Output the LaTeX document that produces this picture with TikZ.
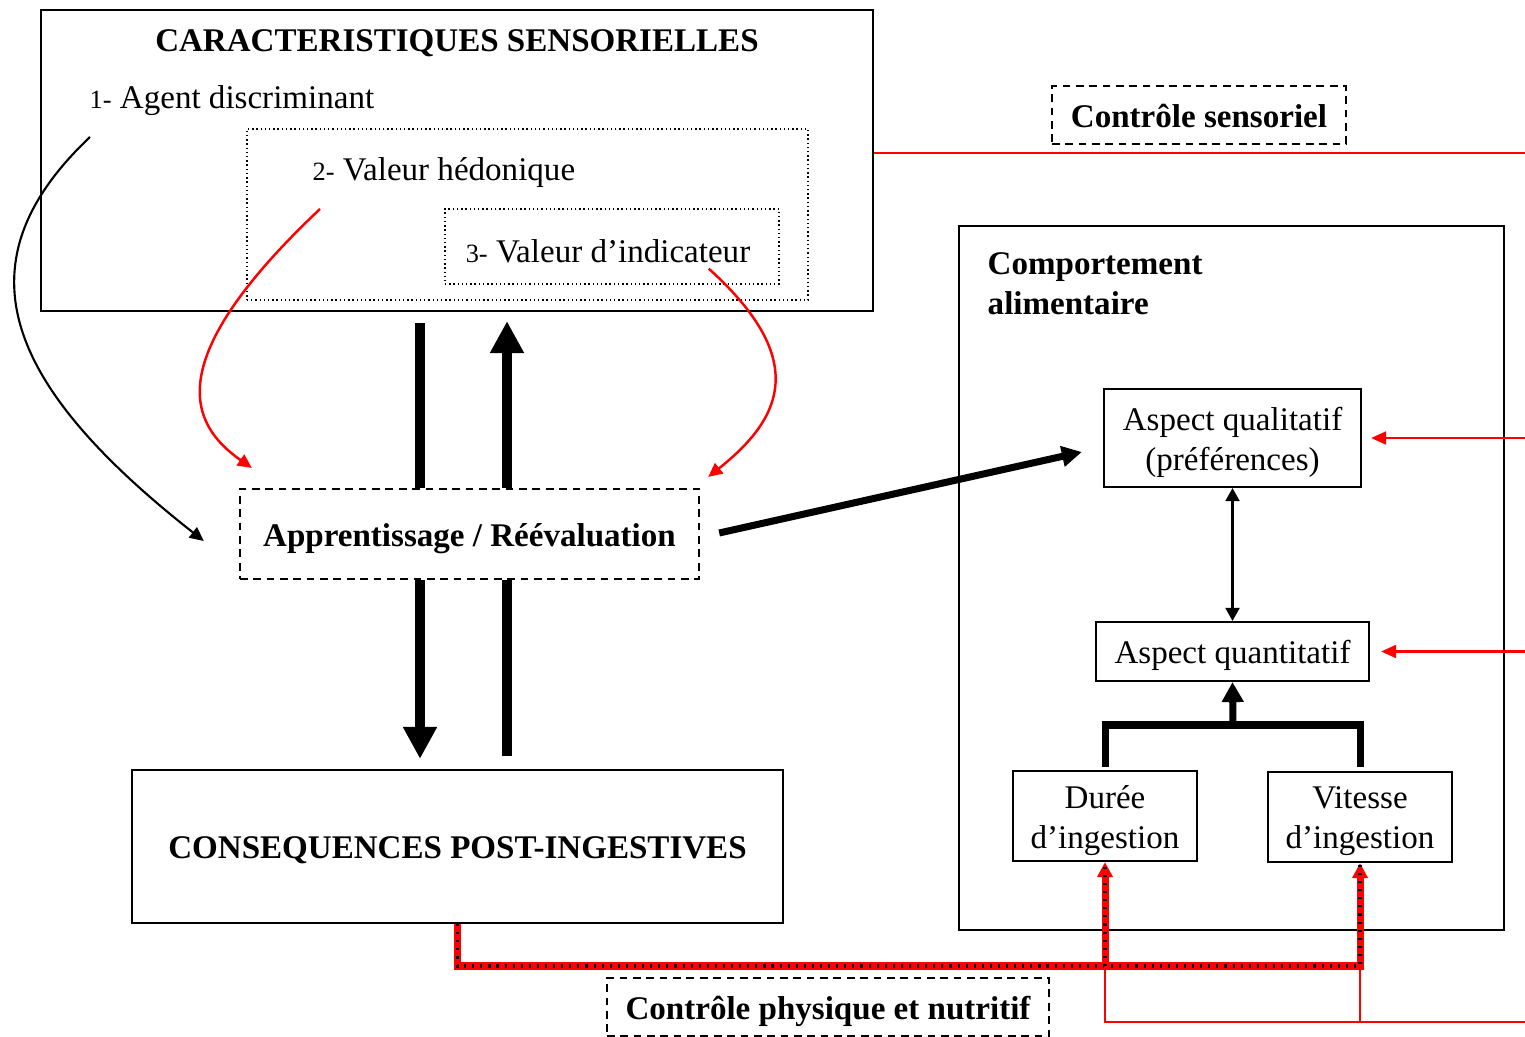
\documentclass[tikz,border=0pt]{standalone}
\usepackage{fontspec}
\setmainfont{Liberation Serif}
\usetikzlibrary{arrows.meta,calc}
\newcommand{\itemno}[1]{{\fontsize{7.5}{9}\selectfont #1}}

\begin{document}
\begin{tikzpicture}[
  x=0.01cm, y=-0.01cm,
  every node/.style={font=\fontsize{9.4}{11.3}\selectfont},
  boldtxt/.style={font=\fontsize{9.4}{11.3}\selectfont\bfseries},
  lbl/.style={yshift=-1.2pt, align=center, inner sep=0pt},
  box/.style={draw, line width=0.6pt, inner sep=0pt},
  dbox/.style={draw, line width=0.6pt, dash pattern=on 2.2pt off 1.6pt, inner sep=0pt},
  tbox/.style={draw, line width=0.4pt, dash pattern=on 0.4pt off 0.8pt, inner sep=0pt},
  bar/.style={line width=2.9pt},
  bararr/.style={bar, -{Triangle[length=0.32cm, width=0.32cm]}},
  brl/.style={line width=2pt, line join=miter},
  brarr/.style={line width=2pt, -{Triangle[length=0.2cm, width=0.21cm]}},
  diagarr/.style={line width=2pt, -{Triangle[length=0.2cm, width=0.2cm]}},
  dblarr/.style={line width=0.6pt, {Triangle[length=0.13cm, width=0.14cm]}-{Triangle[length=0.13cm, width=0.14cm]}},
  redln/.style={draw=red, line width=0.6pt},
  redarr/.style={redln, -{Triangle[length=0.15cm, width=0.13cm]}},
  curvarr/.style={line width=0.6pt, -{Triangle[length=0.14cm, width=0.13cm]}},
  redcurv/.style={curvarr, draw=red, line width=0.7pt},
  nutri/.style={draw=red, line width=2pt, -{Triangle[length=0.15cm, width=0.15cm]},
                postaction={draw=black, -, line width=1.1pt, dash pattern=on 0.6pt off 1.7pt}},
]
  \useasboundingbox (0,0) rectangle (1525,1037);

  % Sensory characteristics with nested hedonic / indicator values
  \node[box, minimum width=8.32cm, minimum height=3.01cm] (cs) at (457,160.5) {};
  \node[boldtxt] (cstitle) at (457,43) {CARACTERISTIQUES SENSORIELLES};
  \node[anchor=west, inner sep=0pt] (agent) at (89,101) {\itemno{1-} Agent discriminant};
  \node[tbox, minimum width=5.61cm, minimum height=1.71cm] (hedo) at (527.5,214.5) {};
  \node[anchor=west, inner sep=0pt] (hedotxt) at (312,173) {\itemno{2-} Valeur hédonique};
  \node[tbox, minimum width=3.34cm, minimum height=0.75cm] (indic) at (612,246.5) {};
  \node (indictxt) at (608,251) {\itemno{3-} Valeur d’indicateur};

  % Learning and post-ingestive consequences
  \node[dbox, minimum width=4.59cm, minimum height=0.90cm,
        label={[lbl, boldtxt]center:Apprentissage / Réévaluation}] (appr) at (469.5,534) {};
  \node[box, minimum width=6.51cm, minimum height=1.53cm,
        label={[lbl, boldtxt]center:CONSEQUENCES POST-INGESTIVES}] (cons) at (457.5,846.5) {};

  % Feeding behaviour
  \node[box, minimum width=5.45cm, minimum height=7.04cm] (comp) at (1231.5,578) {};
  \node[boldtxt, anchor=west, align=left, inner sep=0pt] (comptitle) at (987,284) {Comportement\\alimentaire};
  \node[box, minimum width=2.57cm, minimum height=0.98cm,
        label={[lbl]center:Aspect qualitatif\\(préférences)}] (qual) at (1232.5,438) {};
  \node[box, minimum width=2.73cm, minimum height=0.59cm,
        label={[lbl]center:Aspect quantitatif}] (quant) at (1232.5,651.5) {};
  \node[box, minimum width=1.84cm, minimum height=0.90cm,
        label={[lbl]center:Durée\\d’ingestion}] (dur) at (1105,816) {};
  \node[box, minimum width=1.84cm, minimum height=0.90cm,
        label={[lbl]center:Vitesse\\d’ingestion}] (vit) at (1360,817) {};

  % Control labels
  \node[dbox, minimum width=2.94cm, minimum height=0.58cm,
        label={[lbl, boldtxt, yshift=0.8pt]center:Contrôle sensoriel}] (ctrls) at (1199,115) {};
  \node[dbox, minimum width=4.42cm, minimum height=0.58cm,
        label={[lbl, boldtxt]center:Contrôle physique et nutritif}] (ctrlp) at (828,1007) {};

  % Free ends at the right edge and bus points
  \coordinate (rs) at (1525,153);
  \coordinate (rq) at (1525,438);
  \coordinate (rn) at (1525,651.5);
  \coordinate (rp) at (1525,1022);
  \coordinate (bus) at (457,966);
  \coordinate (join) at (1233,725);

  % Sensory control lines
  \draw[redln] (cs.east |- rs) -- (rs);
  \draw[redarr] (rq) -- ($(qual.east)+(9,0)$);
  \draw[redarr] (rn) -- ($(quant.east)+(11,0)$);

  % Curved arrows towards learning
  \draw[curvarr] ($(agent.west)+(1,36)$) .. controls +(-130,123) and +(-205,-161) .. ($(appr.west)+(-35,7)$);
  \draw[redcurv] ($(hedotxt.west)+(8,36)$) .. controls +(-160,151) and +(-63,-44) .. ($(appr.north west)+(13,-20)$);
  \draw[redcurv] ($(indic.south east)+(-71,-16)$) .. controls +(102,92) and +(73,-58) .. ($(appr.north east)+(8,-11)$);

  % Thick bars between the three left blocks
  \draw[bar] ($(cs.south)+(-37,11)$) -- ($(appr.north)+(-49.5,0)$);
  \draw[bararr] ($(appr.north)+(37.5,0)$) -- ($(cs.south)+(50,9)$);
  \draw[bararr] ($(appr.south)+(-49.5,0)$) -- ($(cons.north)+(-37.5,-10)$);
  \draw[bar] ($(cons.north)+(49.5,-13)$) -- ($(appr.south)+(37.5,0)$);

  % Learning to qualitative aspect
  \draw[diagarr] ($(appr.east)+(19,-1)$) -- ($(qual.west)+(-21,14)$);

  % Inside feeding behaviour
  \draw[dblarr] (qual.south) -- (quant.north);
  \draw[brl] ($(dur.north)+(0,-3)$) |- (join) -| ($(vit.north)+(0,-4)$);
  \draw[brarr] (join) -- (quant.south);

  % Physical and nutritive control
  \draw[nutri] (cons.south) -- (cons.south |- bus) -| (vit.south);
  \draw[nutri] (dur.south |- bus) -- (dur.south);
  \draw[redln] (dur.south |- bus) |- (rp);
  \draw[redln] (vit.south |- bus) -- (vit.south |- rp);
\end{tikzpicture}
\end{document}
